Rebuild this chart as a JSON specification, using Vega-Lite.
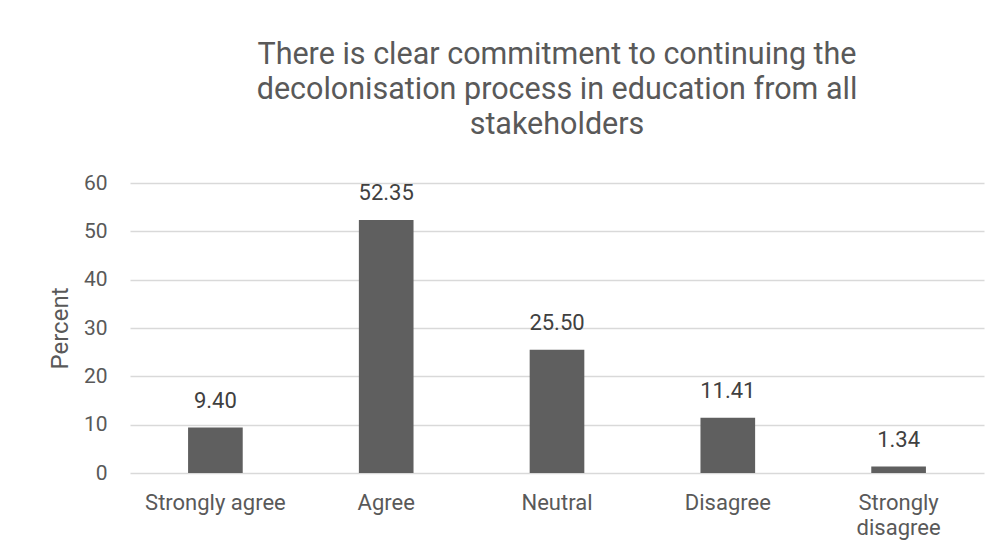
{
  "$schema": "https://vega.github.io/schema/vega-lite/v6.json",
  "autosize": "none",
  "width": 854,
  "height": 290,
  "padding": {"left": 130, "top": 183, "right": 15, "bottom": 81},
  "background": "white",
  "config": {
    "font": "Roboto",
    "view": {"stroke": null}
  },
  "title": {
    "text": ["There is clear commitment to continuing the", "decolonisation process in education from all", "stakeholders"],
    "fontSize": 30.5,
    "fontWeight": "normal",
    "color": "#595959",
    "lineHeight": 35,
    "anchor": "middle",
    "frame": "group",
    "offset": 32
  },
  "data": {
    "values": [
      {"response": "Strongly agree", "percent": 9.40},
      {"response": "Agree", "percent": 52.35},
      {"response": "Neutral", "percent": 25.50},
      {"response": "Disagree", "percent": 11.41},
      {"response": "Strongly disagree", "percent": 1.34}
    ]
  },
  "encoding": {
    "x": {
      "field": "response",
      "type": "nominal",
      "sort": null,
      "scale": {"paddingInner": 0.68, "paddingOuter": 0.34},
      "axis": {
        "title": null,
        "labelAngle": 0,
        "labelFontSize": 22,
        "labelColor": "#595959",
        "labelPadding": 19,
        "labelLineHeight": 25,
        "labelExpr": "datum.label == 'Strongly disagree' ? ['Strongly', 'disagree'] : datum.label",
        "ticks": false,
        "domain": false,
        "grid": false
      }
    },
    "y": {
      "field": "percent",
      "type": "quantitative",
      "scale": {"domain": [0, 60]},
      "axis": {
        "title": "Percent",
        "titleFontSize": 24,
        "titleFontWeight": "normal",
        "titleColor": "#595959",
        "titlePadding": 11,
        "values": [0, 10, 20, 30, 40, 50, 60],
        "labelFontSize": 21,
        "labelColor": "#595959",
        "labelPadding": 23,
        "ticks": false,
        "domain": false,
        "gridColor": "#d9d9d9",
        "gridWidth": 1.5
      }
    }
  },
  "layer": [
    {"mark": {"type": "bar", "color": "#5f5f5f"}},
    {
      "mark": {"type": "text", "baseline": "bottom", "dy": -15, "fontSize": 22, "color": "#404040"},
      "encoding": {"text": {"field": "percent", "type": "quantitative", "format": ".2f"}}
    }
  ]
}
